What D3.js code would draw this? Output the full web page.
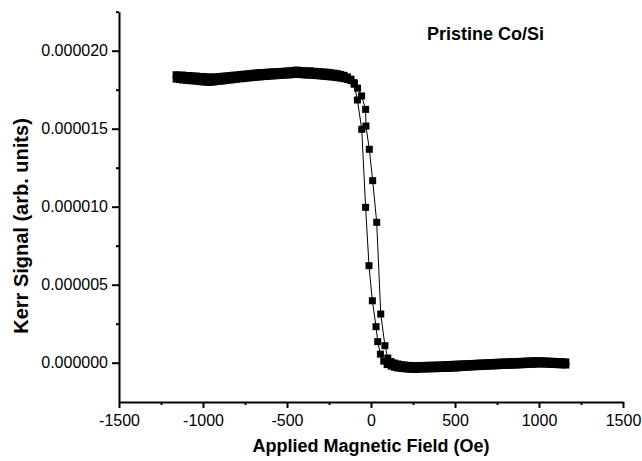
<!DOCTYPE html>
<html><head><meta charset="utf-8">
<script src="https://cdn.jsdelivr.net/npm/d3@7"></script>
<style>body{margin:0;background:#fff} svg{display:block}</style>
</head><body><svg id="c" width="642" height="461"></svg>
<script>
// ---- data ----
const xTickValues = [-1500, -1000, -500, 0, 500, 1000, 1500];
const xMinorTicks = [-1250, -750, -250, 250, 750, 1250];
const yTickValues = [0, 0.000005, 0.000010, 0.000015, 0.000020];
const yMinorTicks = [0.0000025, 0.0000075, 0.0000125, 0.0000175, 0.0000225];
const chartTitle = "Pristine Co/Si";
const xTitle = "Applied Magnetic Field (Oe)";
const yTitle = "Kerr Signal (arb. units)";

// descending-field branch (switches at negative field)
const fieldDown = [-1160,-1140,-1120,-1100,-1080,-1060,-1040,-1020,-1000,-980,-960,-940,-920,-900,-880,-860,-840,-820,-800,-780,-760,-740,-720,-700,-680,-660,-640,-620,-600,-580,-560,-540,-520,-500,-480,-460,-440,-420,-400,-380,-360,-340,-320,-300,-280,-260,-240,-220,-200,-180,-160,-140,-120,-100,
  -81,-55,-32,-12,8,30,40,56,76,96,
  120,140,160,180,200,220,240,260,280,300,320,340,360,380,400,420,440,460,480,500,520,540,560,580,600,620,640,660,680,700,720,740,760,780,800,820,840,860,880,900,920,940,960,980,1000,1020,1040,1060,1080,1100,1120,1140,1160];
const signalDown = [18.46e-6,18.43e-6,18.44e-6,18.40e-6,18.41e-6,18.37e-6,18.38e-6,18.34e-6,18.35e-6,18.31e-6,18.32e-6,18.30e-6,18.33e-6,18.34e-6,18.37e-6,18.38e-6,18.41e-6,18.43e-6,18.44e-6,18.47e-6,18.49e-6,18.51e-6,18.53e-6,18.56e-6,18.57e-6,18.60e-6,18.59e-6,18.62e-6,18.63e-6,18.65e-6,18.64e-6,18.67e-6,18.68e-6,18.70e-6,18.71e-6,18.74e-6,18.76e-6,18.73e-6,18.72e-6,18.70e-6,18.71e-6,18.68e-6,18.67e-6,18.65e-6,18.63e-6,18.62e-6,18.59e-6,18.56e-6,18.53e-6,18.48e-6,18.42e-6,18.32e-6,18.18e-6,17.85e-6,
  16.84e-6,14.96e-6,9.96e-6,6.22e-6,3.97e-6,2.31e-6,1.35e-6,0.55e-6,0.10e-6,-0.12e-6,
  -0.22e-6,-0.29e-6,-0.34e-6,-0.37e-6,-0.39e-6,-0.41e-6,-0.42e-6,-0.43e-6,-0.42e-6,-0.41e-6,-0.40e-6,-0.40e-6,-0.39e-6,-0.38e-6,-0.38e-6,-0.37e-6,-0.37e-6,-0.36e-6,-0.35e-6,-0.34e-6,-0.33e-6,-0.31e-6,-0.30e-6,-0.28e-6,-0.27e-6,-0.26e-6,-0.25e-6,-0.24e-6,-0.23e-6,-0.22e-6,-0.21e-6,-0.20e-6,-0.19e-6,-0.18e-6,-0.17e-6,-0.16e-6,-0.16e-6,-0.15e-6,-0.14e-6,-0.13e-6,-0.12e-6,-0.11e-6,-0.10e-6,-0.09e-6,-0.08e-6,-0.08e-6,-0.09e-6,-0.10e-6,-0.11e-6,-0.12e-6,-0.13e-6,-0.14e-6,-0.15e-6];

// ascending-field branch (switches at positive field)
const fieldUp = [-1160,-1140,-1120,-1100,-1080,-1060,-1040,-1020,-1000,-980,-960,-940,-920,-900,-880,-860,-840,-820,-800,-780,-760,-740,-720,-700,-680,-660,-640,-620,-600,-580,-560,-540,-520,-500,-480,-460,-440,-420,-400,-380,-360,-340,-320,-300,-280,-260,-240,-220,-200,-180,-160,-140,-120,-100,
  -80,-56,-32,-30,-10,10,34,58,83,100,
  120,140,160,180,200,220,240,260,280,300,320,340,360,380,400,420,440,460,480,500,520,540,560,580,600,620,640,660,680,700,720,740,760,780,800,820,840,860,880,900,920,940,960,980,1000,1020,1040,1060,1080,1100,1120,1140,1160];
const signalUp = [18.18e-6,18.15e-6,18.12e-6,18.10e-6,18.08e-6,18.07e-6,18.05e-6,18.02e-6,18.00e-6,17.98e-6,17.97e-6,17.99e-6,18.02e-6,18.04e-6,18.06e-6,18.09e-6,18.12e-6,18.14e-6,18.17e-6,18.20e-6,18.21e-6,18.24e-6,18.26e-6,18.28e-6,18.30e-6,18.32e-6,18.34e-6,18.35e-6,18.37e-6,18.39e-6,18.40e-6,18.42e-6,18.43e-6,18.44e-6,18.46e-6,18.47e-6,18.48e-6,18.47e-6,18.45e-6,18.44e-6,18.43e-6,18.41e-6,18.40e-6,18.38e-6,18.36e-6,18.34e-6,18.32e-6,18.30e-6,18.27e-6,18.24e-6,18.20e-6,18.15e-6,18.08e-6,17.95e-6,
  17.60e-6,17.10e-6,16.24e-6,15.17e-6,13.68e-6,11.67e-6,9.00e-6,3.12e-6,1.09e-6,0.30e-6,
  0.07e-6,-0.02e-6,-0.08e-6,-0.12e-6,-0.15e-6,-0.17e-6,-0.18e-6,-0.18e-6,-0.19e-6,-0.18e-6,-0.17e-6,-0.17e-6,-0.16e-6,-0.16e-6,-0.15e-6,-0.14e-6,-0.13e-6,-0.12e-6,-0.11e-6,-0.10e-6,-0.09e-6,-0.08e-6,-0.07e-6,-0.06e-6,-0.05e-6,-0.04e-6,-0.03e-6,-0.02e-6,-0.01e-6,0.00e-6,0.01e-6,0.02e-6,0.03e-6,0.04e-6,0.05e-6,0.06e-6,0.07e-6,0.07e-6,0.08e-6,0.09e-6,0.10e-6,0.11e-6,0.12e-6,0.13e-6,0.13e-6,0.12e-6,0.11e-6,0.10e-6,0.09e-6,0.08e-6,0.07e-6,0.06e-6,0.05e-6];

// ---- drawing ----
const svg = d3.select("#c");
const FONT = "'Liberation Sans', Arial, Helvetica, sans-serif";
const x = d3.scaleLinear().domain([-1500, 1500]).range([119, 623]);
const y = d3.scaleLinear().domain([-0.0000025, 0.0000225]).range([401.7, 11.7]);

const branches = [
  fieldDown.map((f, i) => [f, signalDown[i]]),
  fieldUp.map((f, i) => [f, signalUp[i]])
];
const line = d3.line().x(d => x(d[0])).y(d => y(d[1]));

const plot = svg.append("g");
plot.selectAll("path.branch").data(branches).join("path")
  .attr("class", "branch").attr("d", line)
  .attr("fill", "none").attr("stroke", "#000").attr("stroke-width", 1);
const S = 7;
branches.forEach(b => {
  plot.append("g").selectAll("rect").data(b).join("rect")
    .attr("x", d => x(d[0]) - S / 2).attr("y", d => y(d[1]) - S / 2)
    .attr("width", S).attr("height", S).attr("fill", "#000");
});

function styleAxis(g) {
  g.selectAll("path.domain").attr("stroke", "#000").attr("stroke-width", 2);
  g.selectAll(".tick line").attr("stroke", "#000").attr("stroke-width", 2);
  g.selectAll(".tick text").attr("fill", "#000").attr("font-family", FONT).attr("font-size", 16);
}

const xAxis = svg.append("g").attr("transform", "translate(0,402)")
  .call(d3.axisBottom(x).tickValues(xTickValues).tickSize(6).tickSizeOuter(0).tickPadding(7).tickFormat(d => String(d)));
styleAxis(xAxis);
const xMinor = svg.append("g").attr("transform", "translate(0,402)")
  .call(d3.axisBottom(x).tickValues(xMinorTicks).tickSize(3).tickSizeOuter(0).tickFormat(""));
xMinor.select("path.domain").remove();
styleAxis(xMinor);

const yAxis = svg.append("g").attr("transform", "translate(119,0)")
  .call(d3.axisLeft(y).tickValues(yTickValues).tickSize(7).tickSizeOuter(0).tickPadding(4).tickFormat(d => d.toFixed(6)));
styleAxis(yAxis);
const yMinor = svg.append("g").attr("transform", "translate(119,0)")
  .call(d3.axisLeft(y).tickValues(yMinorTicks).tickSize(3).tickSizeOuter(0).tickFormat(""));
yMinor.select("path.domain").remove();
styleAxis(yMinor);

svg.append("text").text(xTitle)
  .attr("x", 371).attr("y", 452).attr("text-anchor", "middle")
  .attr("font-family", FONT).attr("font-weight", "bold").attr("font-size", 18);
svg.append("text").text(yTitle)
  .attr("transform", "translate(28,226) rotate(-90)").attr("text-anchor", "middle")
  .attr("font-family", FONT).attr("font-weight", "bold").attr("font-size", 20);
svg.append("text").text(chartTitle)
  .attr("x", 427).attr("y", 40).attr("text-anchor", "start")
  .attr("font-family", FONT).attr("font-weight", "bold").attr("font-size", 18);
</script></body></html>
